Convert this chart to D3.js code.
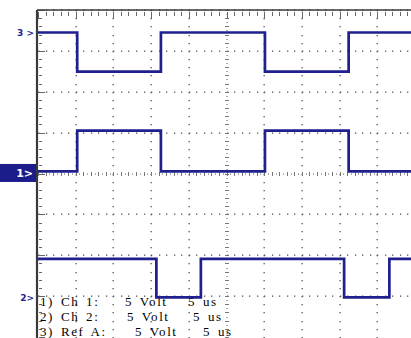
<!DOCTYPE html>
<html>
<head>
<meta charset="utf-8">
<script src="https://cdn.jsdelivr.net/npm/d3@7"></script>
<style>
  html, body { margin: 0; padding: 0; background: #fff; }
  svg { display: block; }
</style>
</head>
<body>
<svg id="scope" width="411" height="338"></svg>
<script>
// Scope settings
const usPerDiv = 5;
const voltsPerDiv = 5;
const xDivisions = 10;
const yDivisions = 8;

// Channel 1
const ch1Times = [0, 5.2, 16.3, 30.1, 41.2, 50];
const ch1Volts = [0, 5.0, 0, 5.0, 0, 0];
// Channel 2
const ch2Times = [0, 15.7, 21.6, 40.6, 46.6, 50];
const ch2Volts = [4.7, 0, 4.7, 0, 4.7, 4.7];
// Reference A
const refATimes = [0, 5.2, 16.3, 30.1, 41.2, 50];
const refAVolts = [0, -4.8, 0, -4.8, 0, 0];

// Ground marker positions (divisions from screen centre)
const groundOffsets = [0.05, -3.03, 3.45];
const markerLabels = ["1", "2", "3"];

// Settings readout
const infoNames = ["1) Ch 1:", "2) Ch 2:", "3) Ref A:"];
const infoVolts = ["5 Volt", "5 Volt", "5 Volt"];
const infoTimes = ["5 us", "5 us", "5 us"];

const svg = d3.select("#scope");
const traceColor = "#1f1f8e";
const gridColor = "#555";

const x = d3.scaleLinear().domain([0, xDivisions * usPerDiv]).range([38, 415]);
const yDiv = d3.scaleLinear().domain([-yDivisions / 2, yDivisions / 2]).range([337, 10]);

const minorStep = 0.2;
const xMinor = d3.range(0, xDivisions + 1e-9, minorStep);
const yMinor = d3.range(-yDivisions / 2, yDivisions / 2 + 1e-9, minorStep);
const xFine = d3.range(0, xDivisions + 1e-9, minorStep / 2);
const yFine = d3.range(-yDivisions / 2, yDivisions / 2 + 1e-9, minorStep / 2);
const xd = d => x(d * usPerDiv);

const grid = svg.append("g");

// Dotted vertical graticule lines
d3.range(1, xDivisions).filter(i => i !== xDivisions / 2).forEach(i => {
  grid.selectAll(null).data(yMinor).join("rect")
    .attr("x", Math.round(xd(i)) - 0.5).attr("y", d => Math.round(yDiv(d)))
    .attr("width", 1.3).attr("height", 1.3).attr("fill", gridColor);
});
// Dotted horizontal graticule lines
d3.range(-yDivisions / 2 + 1, yDivisions / 2 + 1).filter(j => j !== 0).forEach(j => {
  grid.selectAll(null).data(xMinor).join("rect")
    .attr("x", d => Math.round(xd(d))).attr("y", Math.round(yDiv(j)) - 0.5)
    .attr("width", 1.3).attr("height", 1.3).attr("fill", gridColor);
});
// Centre vertical axis with tick marks
grid.selectAll(null).data(yFine).join("rect")
  .attr("x", (d, i) => Math.round(xd(xDivisions / 2)) - (i % 2 === 0 ? 2 : 0.5))
  .attr("y", d => Math.round(yDiv(d)))
  .attr("width", (d, i) => i % 2 === 0 ? 4 : 1.2).attr("height", 1).attr("fill", "#777");
// Centre horizontal axis with tick marks
grid.selectAll(null).data(xFine).join("rect")
  .attr("x", d => Math.round(xd(d)))
  .attr("y", (d, i) => Math.round(yDiv(0)) - (i % 2 === 0 ? 2 : 0.5))
  .attr("width", 1).attr("height", (d, i) => i % 2 === 0 ? 4 : 1.2).attr("fill", "#777");
// Top edge ticks
grid.selectAll(null).data(xMinor).join("rect")
  .attr("x", d => Math.round(xd(d))).attr("y", yDiv(4) + 2)
  .attr("width", 1).attr("height", (d, i) => i % 5 === 0 ? 7 : 4).attr("fill", "#666");
// Left edge ticks
grid.selectAll(null).data(yMinor).join("rect")
  .attr("x", xd(0) + 1).attr("y", d => Math.round(yDiv(d)))
  .attr("width", (d, i) => i % 5 === 0 ? 6 : 3).attr("height", 1).attr("fill", "#666");

// Screen border
svg.append("line").attr("x1", xd(0) - 1).attr("x2", 411)
  .attr("y1", yDiv(4)).attr("y2", yDiv(4))
  .attr("stroke", "#3a3a3a").attr("stroke-width", 1.6);
svg.append("line").attr("x1", xd(0) - 1).attr("x2", xd(0) - 1)
  .attr("y1", yDiv(4)).attr("y2", 338)
  .attr("stroke", "#3a3a3a").attr("stroke-width", 2.2);

// Settings readout
const rowBase = [305.5, 320.5, 335.5];
const voltX = [125, 127, 135];
const timeX = [188, 193, 203];
const info = svg.append("g")
  .attr("font-family", "'Liberation Serif', 'Times New Roman', serif")
  .attr("font-size", 13).attr("letter-spacing", 1.6).attr("word-spacing", 2)
  .attr("fill", "#000");
infoNames.forEach((t, i) => {
  info.append("text").attr("x", 40).attr("y", rowBase[i]).text(t);
  info.append("text").attr("x", voltX[i]).attr("y", rowBase[i]).text(infoVolts[i]);
  info.append("text").attr("x", timeX[i]).attr("y", rowBase[i]).text(infoTimes[i]);
});

// Traces
const channels = [
  { t: ch1Times, v: ch1Volts, off: groundOffsets[0] },
  { t: ch2Times, v: ch2Volts, off: groundOffsets[1] },
  { t: refATimes, v: refAVolts, off: groundOffsets[2] }
];
const line = d3.line().curve(d3.curveStepAfter);
channels.forEach(ch => {
  const pts = ch.t.map((t, i) => [x(t), yDiv(ch.off + ch.v[i] / voltsPerDiv)]);
  svg.append("path").attr("d", line(pts))
    .attr("fill", "none").attr("stroke", traceColor)
    .attr("stroke-width", 2.7).attr("stroke-linejoin", "miter");
});

// Ground markers
const mk = svg.append("g").attr("font-family", "'DejaVu Sans', sans-serif").attr("font-weight", "bold");
[0, 1, 2].forEach(i => {
  const yy = yDiv(groundOffsets[i]);
  if (i === 0) {
    mk.append("rect").attr("x", 0).attr("y", yy - 7.5).attr("width", 36).attr("height", 18).attr("fill", "#1c1c8a");
    mk.append("text").attr("x", 33).attr("y", yy + 5.5).attr("text-anchor", "end")
      .attr("font-size", 11).attr("fill", "#fff").text(markerLabels[i] + ">");
  } else {
    mk.append("text").attr("x", 34).attr("y", yy + 3.5).attr("text-anchor", "end")
      .attr("font-size", 9).attr("fill", traceColor).text(markerLabels[i] + (i === 2 ? " >" : ">"));
  }
});
</script>
</body>
</html>
